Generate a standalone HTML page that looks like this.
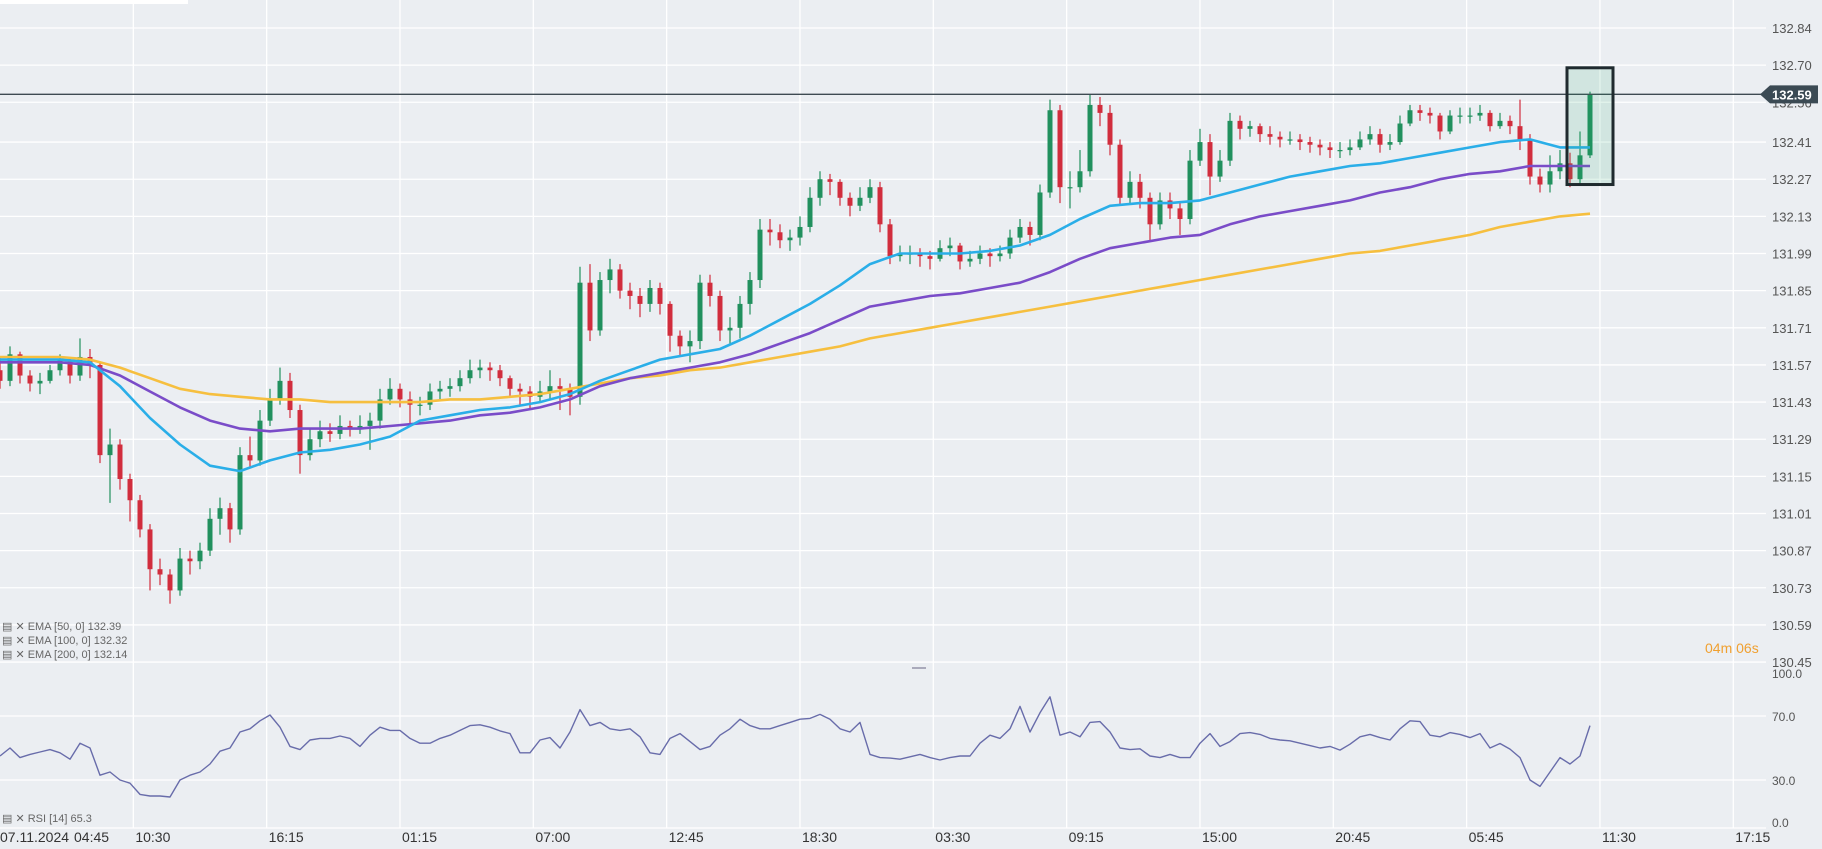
<!DOCTYPE html>
<html><head><meta charset="utf-8"><style>
html,body{margin:0;padding:0;background:#ebeef2;}
svg{display:block;font-family:"Liberation Sans",sans-serif;}
</style></head><body>
<svg id="chart" width="1822" height="849" viewBox="0 0 1822 849" xmlns="http://www.w3.org/2000/svg">
<rect x="0" y="0" width="1822" height="849" fill="#ebeef2"/>
<g id="grid"></g>
<g id="rsi"></g>
<g id="candles"></g>
<g id="emas"></g>
<g id="overlay"></g>
<g id="axes"></g>
<rect x="0" y="0" width="188" height="4" fill="#ffffff"/>
<g font-size="11" fill="#666">
 <text x="2" y="630">▤ ✕ EMA [50, 0] 132.39</text>
 <text x="2" y="644">▤ ✕ EMA [100, 0] 132.32</text>
 <text x="2" y="658">▤ ✕ EMA [200, 0] 132.14</text>
 <text x="2" y="822">▤ ✕ RSI [14] 65.3</text>
</g>
<text x="1705" y="653" font-size="14" fill="#f0a030">04m <tspan fill="#f0a030">06s</tspan></text>
<rect x="912" y="667" width="14" height="2" fill="#aab"/>
</svg>
<script>
const NS="http://www.w3.org/2000/svg";
const closes=[131.51,131.61,131.53,131.50,131.51,131.55,131.59,131.53,131.60,131.57,131.23,131.27,131.14,131.06,130.95,130.80,130.78,130.72,130.84,130.83,130.87,130.99,131.03,130.95,131.23,131.21,131.36,131.44,131.51,131.40,131.23,131.29,131.32,131.31,131.34,131.33,131.34,131.36,131.44,131.48,131.44,131.42,131.42,131.47,131.48,131.49,131.52,131.55,131.56,131.55,131.52,131.48,131.47,131.45,131.47,131.49,131.48,131.45,131.88,131.70,131.89,131.93,131.85,131.83,131.80,131.86,131.80,131.68,131.64,131.66,131.88,131.83,131.70,131.71,131.80,131.89,132.08,132.07,132.04,132.05,132.09,132.20,132.27,132.26,132.20,132.17,132.20,132.24,132.10,131.98,131.99,131.99,131.98,131.97,132.01,132.02,131.96,131.97,131.99,131.98,131.99,132.05,132.09,132.06,132.22,132.53,132.24,132.24,132.30,132.55,132.52,132.40,132.20,132.26,132.20,132.10,132.19,132.16,132.12,132.34,132.41,132.28,132.34,132.49,132.46,132.47,132.44,132.43,132.42,132.42,132.41,132.40,132.39,132.38,132.38,132.39,132.42,132.44,132.40,132.41,132.48,132.53,132.52,132.51,132.45,132.51,132.51,132.51,132.52,132.47,132.49,132.47,132.42,132.28,132.25,132.30,132.33,132.27,132.36,132.59];
const highs=[131.60,131.64,131.62,131.55,131.54,131.57,131.61,131.60,131.67,131.63,131.58,131.33,131.29,131.16,131.08,130.97,130.84,130.80,130.88,130.87,130.90,131.03,131.07,131.05,131.26,131.30,131.40,131.48,131.56,131.54,131.42,131.33,131.36,131.35,131.38,131.36,131.38,131.39,131.48,131.52,131.50,131.47,131.45,131.50,131.51,131.52,131.55,131.59,131.59,131.58,131.57,131.53,131.50,131.49,131.51,131.55,131.52,131.50,131.94,131.95,131.92,131.97,131.95,131.88,131.86,131.89,131.88,131.81,131.70,131.70,131.91,131.91,131.85,131.75,131.83,131.92,132.12,132.12,132.10,132.08,132.13,132.24,132.30,132.29,132.27,132.22,132.24,132.27,132.26,132.12,132.02,132.02,132.01,132.00,132.04,132.05,132.03,132.00,132.02,132.01,132.02,132.08,132.12,132.11,132.25,132.57,132.55,132.30,132.38,132.59,132.58,132.55,132.42,132.30,132.29,132.22,132.22,132.22,132.18,132.38,132.46,132.44,132.38,132.52,132.51,132.49,132.48,132.47,132.45,132.45,132.44,132.43,132.42,132.41,132.41,132.42,132.45,132.47,132.46,132.44,132.51,132.55,132.55,132.54,132.52,132.53,132.54,132.54,132.55,132.53,132.52,132.51,132.57,132.44,132.31,132.36,132.38,132.37,132.45,132.60];
const lows=[131.48,131.49,131.50,131.47,131.46,131.50,131.53,131.50,131.51,131.52,131.20,131.05,131.10,130.98,130.92,130.72,130.74,130.67,130.70,130.78,130.80,130.85,130.93,130.90,130.93,131.18,131.19,131.34,131.42,131.37,131.16,131.21,131.26,131.28,131.29,131.30,131.31,131.25,131.33,131.42,131.41,131.35,131.38,131.40,131.44,131.45,131.47,131.50,131.52,131.51,131.49,131.45,131.42,131.40,131.43,131.44,131.40,131.38,131.42,131.66,131.68,131.84,131.82,131.78,131.75,131.77,131.76,131.62,131.60,131.58,131.63,131.79,131.66,131.65,131.67,131.76,131.86,132.02,132.01,132.00,132.02,132.07,132.17,132.21,132.17,132.13,132.15,132.18,132.07,131.95,131.96,131.95,131.94,131.93,131.96,131.98,131.93,131.94,131.95,131.94,131.96,131.97,132.03,132.02,132.04,132.20,132.18,132.16,132.22,132.28,132.47,132.36,132.17,132.18,132.16,132.04,132.08,132.12,132.06,132.10,132.32,132.21,132.26,132.32,132.42,132.43,132.41,132.40,132.39,132.40,132.38,132.37,132.36,132.35,132.35,132.36,132.38,132.40,132.37,132.38,132.40,132.47,132.49,132.48,132.42,132.44,132.48,132.48,132.49,132.45,132.46,132.44,132.38,132.25,132.22,132.22,132.27,132.24,132.25,132.35];
const firstOpen=131.55;
const ema50=[131.59,131.59,131.59,131.58,131.49,131.37,131.27,131.19,131.17,131.21,131.24,131.25,131.27,131.30,131.36,131.38,131.40,131.41,131.43,131.46,131.51,131.55,131.59,131.61,131.63,131.68,131.74,131.80,131.87,131.95,131.99,131.99,131.99,132.00,132.02,132.06,132.12,132.17,132.18,132.18,132.19,132.22,132.25,132.28,132.30,132.32,132.33,132.35,132.37,132.39,132.41,132.42,132.39,132.39];
const ema100=[131.58,131.58,131.58,131.57,131.53,131.47,131.41,131.36,131.33,131.32,131.33,131.33,131.33,131.34,131.35,131.36,131.38,131.39,131.41,131.44,131.49,131.52,131.54,131.56,131.58,131.61,131.65,131.69,131.74,131.79,131.81,131.83,131.84,131.86,131.88,131.92,131.97,132.01,132.03,132.05,132.06,132.10,132.13,132.15,132.17,132.19,132.22,132.24,132.27,132.29,132.30,132.32,132.32,132.32];
const ema200=[131.60,131.60,131.60,131.59,131.56,131.52,131.48,131.46,131.45,131.44,131.44,131.43,131.43,131.43,131.43,131.44,131.44,131.45,131.46,131.48,131.50,131.52,131.53,131.55,131.56,131.58,131.60,131.62,131.64,131.67,131.69,131.71,131.73,131.75,131.77,131.79,131.81,131.83,131.85,131.87,131.89,131.91,131.93,131.95,131.97,131.99,132.00,132.02,132.04,132.06,132.09,132.11,132.13,132.14];
const rsiValues=[45,50,44,46,47.5,49,47,43,53,50,33,35,30,28,21,20,20,19.4,30,33,35,40,48,50,60,62,67,70.6,63,51,49,55,56,56,57.5,56,51,58,63,61,61,56,53,53,56,58,61,64,64.5,63,60.7,59,47,47,55,56.5,50,60,74,64,66,62,61,62,57,47,46,56,59,54,49,51,58,62,68,64,62,62,64,66,68,68.5,71,68,62,60,66,46,44,43.7,43,44.5,46,44,42.5,44,45,45,53,58,56,62,76,60,72,82,58,60,57,66,66.5,60,50,49,49.5,45,44,46,44,44,53,59,51,54,59,59.6,58.5,56,55,54.5,53,51.5,50,51,48.7,52.4,57,58.5,56.5,55,62,67,66.5,58,57,59.6,58.5,56.5,59,50,52.8,49.3,44,30,26,35,44,40,45,64];
const priceTicks=["132.84","132.70","132.56","132.41","132.27","132.13","131.99","131.85","131.71","131.57","131.43","131.29","131.15","131.01","130.87","130.73","130.59","130.45"];
const rsiTicks=["100.0","70.0","30.0","0.0"];
const timeLabels=["04:45","10:30","16:15","01:15","07:00","12:45","18:30","03:30","09:15","15:00","20:45","05:45","11:30","17:15"];
const lastPrice=132.59;

const CAND_STEP=10, EMA_STEP=3;
const yP=p=>28+(132.84-p)*265.3;
const xC=i=>i*CAND_STEP;
const yR=v=>828-v*1.6;
const xT=i=>i*133.33;
function mk(tag,attrs,parent){const e=document.createElementNS(NS,tag);for(const k in attrs)e.setAttribute(k,attrs[k]);parent.appendChild(e);return e;}
const grid=document.getElementById('grid'),axes=document.getElementById('axes'),cg=document.getElementById('candles'),eg=document.getElementById('emas'),rg=document.getElementById('rsi'),ov=document.getElementById('overlay');

priceTicks.forEach((t)=>{const y=yP(parseFloat(t));
 const l=mk('line',{x1:0,x2:1766,y1:y,y2:y,stroke:'#ffffff','stroke-width':1.3},grid);
 
 
 const tx=mk('text',{x:1772,y:y+5,'font-size':13,fill:'#555'},axes);tx.textContent=t;
 
 
});
rsiTicks.forEach((t)=>{const v=parseFloat(t),y=yR(v);
 if(v<100){const l=mk('line',{x1:0,x2:1766,y1:y,y2:y,stroke:'#ffffff','stroke-width':1.3},grid);
 
 }
 const tx=mk('text',{x:1772,y:(v===100?y+10:v===0?y-1:y+5),'font-size':12,fill:'#555'},axes);tx.textContent=t;
 
 
});
timeLabels.forEach((t,i)=>{const x=xT(i);
 if(i>0){const l=mk('line',{x1:x,x2:x,y1:0,y2:828,stroke:'#ffffff','stroke-width':1.3},grid);
 
 }
 const tx=mk('text',{x:i===0?74:x+2,y:842,'font-size':14,fill:'#333'},axes);tx.textContent=t;
 
 
});
const dt=mk('text',{x:0,y:842,'font-size':14,fill:'#333'},axes);dt.textContent="07.11.2024";



const pl=mk('line',{x1:0,x2:1762,y1:yP(lastPrice),y2:yP(lastPrice),stroke:'#3e4a52','stroke-width':1.3},ov);


const hb=mk('rect',{x:xC(closes.length-1)-23,y:yP(132.69),width:46,height:yP(132.25)-yP(132.69),fill:'rgba(40,170,110,0.13)',stroke:'#1f2a2e','stroke-width':3},ov);



closes.forEach((c,i)=>{const o=i===0?firstOpen:closes[i-1];const up=c>=o;const col=up?'#21905e':'#d12d3d';const x=xC(i);
 const w=mk('line',{x1:x,x2:x,y1:yP(highs[i]),y2:yP(lows[i]),stroke:col,'stroke-width':1.2},cg);
 
 
 const yt=yP(Math.max(o,c)),yb=yP(Math.min(o,c));
 const b=mk('rect',{x:x-2.5,y:yt,width:5,height:Math.max(1.2,yb-yt),fill:col},cg);
 
 
});
[[ema200,'#f6bf3f','ema-200-line'],[ema100,'#7a4cc8','ema-100-line'],[ema50,'#2aaee8','ema-50-line']].forEach(([arr,col,name])=>{
 const pts=arr.map((v,k)=>xC(k*EMA_STEP)+','+yP(v).toFixed(1)).join(' ');
 const p=mk('polyline',{points:pts,fill:'none',stroke:col,'stroke-width':2.6,'stroke-linejoin':'round'},eg);
 
 
});
const rp=mk('polyline',{points:rsiValues.map((v,i)=>xC(i)+','+yR(v).toFixed(1)).join(' '),fill:'none',stroke:'#686caa','stroke-width':1.4,'stroke-linejoin':'round'},rg);



const ly=yP(lastPrice);
const tag=mk('path',{d:`M1760 ${ly} L1770 ${ly-9} L1818 ${ly-9} L1818 ${ly+9} L1770 ${ly+9} Z`,fill:'#3b4a54'},axes);


const tt=mk('text',{x:1772,y:ly+5,'font-size':13,'font-weight':'bold',fill:'#ffffff'},axes);tt.textContent=lastPrice.toFixed(2);


</script>
</body></html>
